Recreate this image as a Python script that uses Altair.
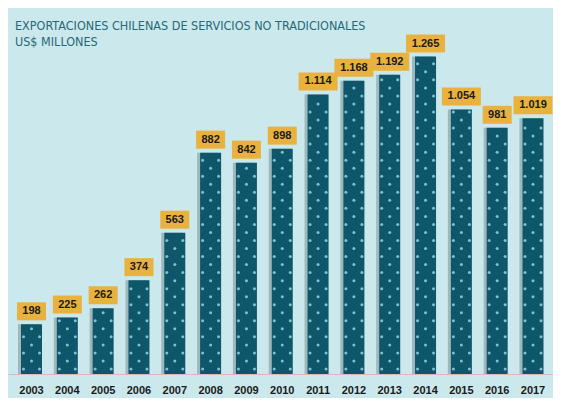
import altair as alt
import pandas as pd

years = ["2003", "2004", "2005", "2006", "2007", "2008", "2009", "2010",
         "2011", "2012", "2013", "2014", "2015", "2016", "2017"]
values = [198, 225, 262, 374, 563, 882, 842, 898, 1114, 1168, 1192, 1265, 1054, 981, 1019]
labels = ["198", "225", "262", "374", "563", "882", "842", "898",
          "1.114", "1.168", "1.192", "1.265", "1.054", "981", "1.019"]

title_lines = ["EXPORTACIONES CHILENAS DE SERVICIOS NO TRADICIONALES", "US$ MILLONES"]

df = pd.DataFrame({"year": years, "value": values, "label": labels})

BG = "#cbe8ec"
BAR = "#0e5669"
BOX = "#e9b23f"
DOT = "#7fc2cd"

xenc = alt.X("year:N", sort=None, title=None,
             scale=alt.Scale(paddingInner=0.4137, paddingOuter=0.314, align=0.578),
             axis=alt.Axis(ticks=False, tickSize=0, labelAngle=0, labelPadding=10,
                           labelFont="Liberation Sans", labelFontWeight="bold",
                           labelFontSize=11, labelColor="#1a1a1a",
                           domain=True, domainColor="#dbb6b6", domainWidth=1,
                           grid=False))
yscale = alt.Scale(domain=[0, 1291], nice=False, zero=True)
yenc = alt.Y("value:Q", scale=yscale, axis=None, title=None)

base = alt.Chart(df)

shadow = base.mark_bar(color="#2c3d44", opacity=0.28, xOffset=-3, width=21).encode(
    x=xenc, y=yenc)

bars = base.mark_bar(color=BAR, width=21).encode(x=xenc, y=yenc)

dots_base = base.transform_calculate(
    ks="sequence(0, floor((datum.value - 30) / 32) + 1)"
).transform_flatten(["ks"]).transform_calculate(
    dy="20 + datum.ks * 32"
)

dot_y = alt.Y("dy:Q", scale=yscale, axis=None, title=None)
dots_center = dots_base.transform_filter("datum.ks % 2 == 1").mark_circle(
    color=DOT, size=9, opacity=1).encode(x=xenc, y=dot_y)
dots_left = dots_base.transform_filter("datum.ks % 2 == 0").mark_circle(
    color=DOT, size=9, opacity=1, xOffset=-8).encode(x=xenc, y=dot_y)
dots_right = dots_base.transform_filter("datum.ks % 2 == 0").mark_circle(
    color=DOT, size=9, opacity=1, xOffset=8).encode(x=xenc, y=dot_y)

boxes = base.transform_calculate(
    bw="length(datum.label) > 3 ? 39 : 29"
).mark_bar(color=BOX, yOffset=-4, y2Offset=-22).encode(
    x=xenc, y=yenc, y2="value:Q",
    size=alt.Size("bw:Q", scale=None, legend=None))

texts = base.mark_text(font="Liberation Sans", fontWeight="bold", fontSize=11,
                       color="#1a1a1a", baseline="middle", yOffset=-13).encode(
    x=xenc, y=yenc, text="label:N")

chart = alt.layer(shadow, bars, dots_center, dots_left, dots_right, boxes, texts).properties(
    width=545, height=324,
    autosize=alt.AutoSizeParams(type="none"),
    padding={"left": 0, "top": 42, "right": 0, "bottom": 24},
    background=BG,
    title=alt.TitleParams(text=title_lines, anchor="start", dx=7, dy=18, offset=4,
                          font="DejaVu Sans Condensed", fontSize=12.5,
                          fontWeight="normal", color="#276878", lineHeight=16),
).configure_view(stroke=None)

chart.save("out.html", embed_options={"renderer": "svg", "actions": False})
